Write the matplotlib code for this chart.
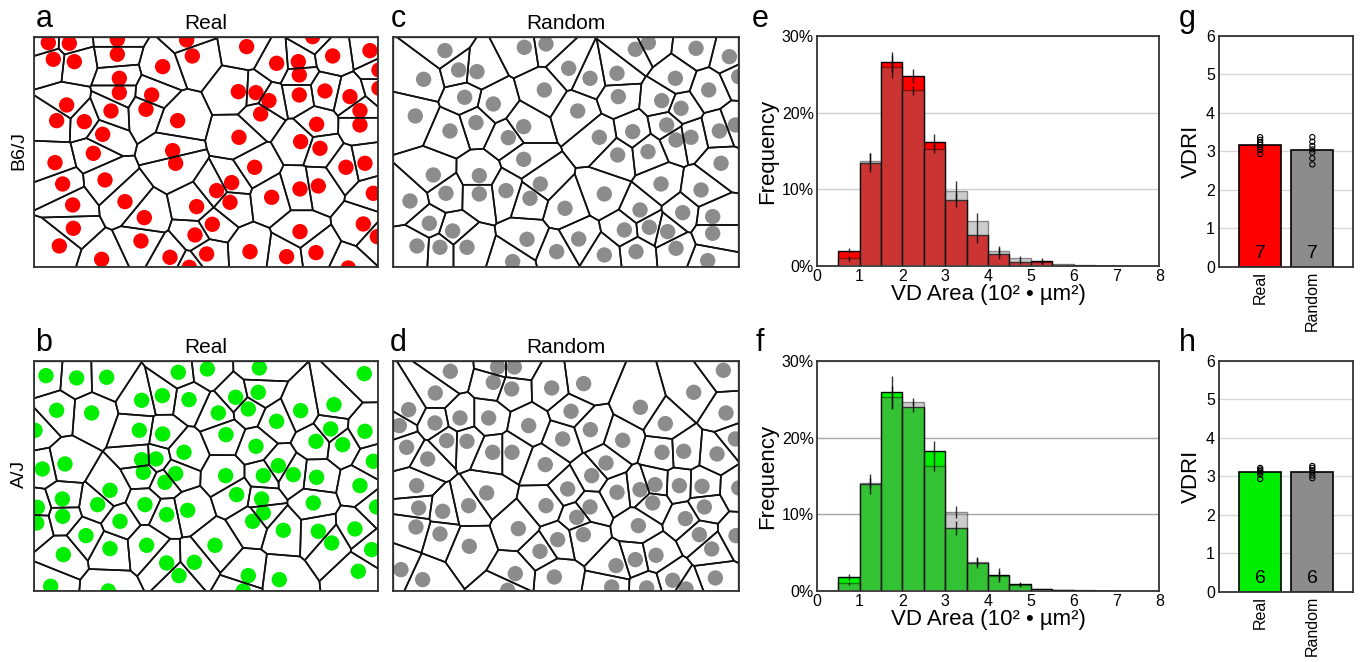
import numpy as np
import matplotlib
matplotlib.use("Agg")
import matplotlib.pyplot as plt
from matplotlib.collections import PolyCollection
from matplotlib.patches import Circle

plt.rcParams["font.family"] = ["Liberation Sans", "DejaVu Sans"]

# ---- cell positions (image units of each field) ----
pts_b6_real = [
    (55, 38), (118, 40), (262, 28), (470, 30), (650, 50), (848, 20), (1020, 62), (1047, 120),
    (70, 88), (133, 95), (262, 73), (487, 78), (398, 110), (740, 100), (805, 95), (908, 78),
    (808, 135), (808, 195), (268, 145), (268, 188), (365, 195), (348, 238), (625, 185),
    (678, 188), (717, 212), (692, 252), (885, 183), (960, 200), (990, 242), (990, 285),
    (1047, 175), (110, 225), (80, 272), (163, 275), (243, 243), (218, 313), (443, 272),
    (627, 322), (860, 283), (812, 335), (870, 355), (75, 398), (190, 370), (428, 362),
    (437, 400), (948, 412), (1005, 400), (674, 412), (98, 462), (225, 450), (605, 458),
    (560, 482), (600, 517), (725, 502), (810, 477), (865, 468), (1030, 490), (128, 525),
    (285, 515), (500, 530), (343, 563), (547, 583), (1000, 582), (1042, 620), (130, 595),
    (495, 615), (810, 605), (88, 648), (333, 633), (215, 688), (420, 682), (530, 672),
    (660, 665), (770, 680), (858, 668), (478, 712), (955, 714),
]
pts_b6_rand = [
    (177, 62), (415, 52), (480, 42), (548, 115), (612, 145), (693, 130), (748, 58), (787, 38),
    (930, 55), (1030, 80), (1058, 140), (218, 120), (273, 125), (113, 148), (868, 145),
    (968, 180), (475, 180), (697, 200), (236, 202), (322, 222), (827, 212), (885, 235),
    (88, 258), (575, 243), (270, 278), (413, 290), (192, 303), (367, 323), (640, 322),
    (740, 305), (842, 285), (870, 330), (915, 322), (1000, 303), (1048, 285), (413, 388),
    (695, 375), (786, 365), (1005, 400), (142, 435), (280, 437), (463, 462), (825, 462),
    (945, 480), (180, 490), (280, 492), (360, 482), (432, 505), (655, 492), (72, 513),
    (537, 535), (762, 540), (890, 548), (980, 560), (130, 580), (200, 603), (715, 600),
    (790, 592), (845, 605), (980, 610), (93, 648), (162, 652), (243, 652), (423, 628),
    (578, 627), (512, 665), (655, 675), (750, 665), (870, 655), (380, 695), (965, 692),
]
pts_aj_real = [
    (48, 68), (140, 75), (230, 73), (445, 58), (532, 48), (688, 45), (1003, 62),
    (80, 172), (185, 180), (335, 142), (397, 128), (477, 140), (617, 133), (685, 118),
    (655, 168), (565, 180), (812, 173), (912, 155), (740, 205), (902, 228), (1005, 235),
    (15, 232), (328, 232), (398, 243), (588, 245), (678, 280), (858, 265), (938, 275),
    (462, 298), (1030, 325), (105, 333), (37, 348), (335, 320), (378, 318), (340, 358),
    (437, 362), (405, 388), (587, 368), (700, 368), (745, 338), (790, 365), (860, 373),
    (240, 412), (97, 438), (203, 455), (620, 425), (695, 438), (990, 398), (345, 455),
    (473, 472), (410, 485), (98, 490), (22, 463), (20, 510), (700, 480), (668, 505),
    (270, 505), (850, 450), (1040, 462), (168, 548), (760, 532), (865, 535), (975, 528),
    (350, 577), (555, 577), (905, 570), (240, 587), (100, 605), (1025, 590), (410, 630),
    (493, 628), (447, 668), (655, 668), (748, 680), (985, 655), (62, 700), (235, 714),
    (640, 714),
]
pts_aj_rand = [
    (193, 55), (335, 42), (385, 42), (1012, 52), (148, 120), (322, 88), (377, 108),
    (497, 105), (593, 92), (923, 118), (68, 170), (222, 195), (308, 195), (428, 218),
    (555, 175), (763, 163), (1020, 180), (40, 218), (147, 210), (613, 230), (838, 212),
    (182, 263), (243, 265), (530, 258), (710, 262), (1048, 258), (62, 283), (125, 318),
    (320, 298), (378, 298), (478, 335), (660, 330), (828, 298), (893, 295), (993, 303),
    (617, 368), (92, 398), (302, 420), (545, 408), (693, 418), (762, 410), (807, 395),
    (880, 398), (948, 400), (1058, 405), (98, 465), (170, 475), (248, 458), (480, 458),
    (612, 462), (800, 450), (955, 462), (572, 493), (898, 497), (90, 522), (162, 543),
    (397, 527), (757, 518), (592, 545), (515, 560), (940, 545), (1050, 548), (250, 580),
    (977, 588), (462, 595), (690, 638), (748, 620), (810, 607), (45, 650), (110, 680),
    (388, 662), (505, 672), (860, 682), (988, 675), (365, 712), (677, 702), (782, 705),
    (900, 708),
]

# ---- VD area histograms (% per 0.5 bin, 10^2 um^2) ----
bin_left = [0.5, 1.0, 1.5, 2.0, 2.5, 3.0, 3.5, 4.0, 4.5, 5.0, 5.5, 6.0, 6.5]
b6_real = [2.0, 13.5, 26.6, 24.8, 16.2, 8.6, 4.0, 1.6, 0.5, 0.7, 0.1, 0.05, 0.05]
b6_real_err = [0.3, 1.2, 1.3, 0.9, 1.0, 0.9, 1.0, 0.7, 0.3, 0.4, 0, 0, 0]
b6_rand = [1.0, 13.7, 26.0, 22.9, 15.3, 9.8, 5.9, 2.0, 1.0, 0.5, 0.2, 0.1, 0.05]
b6_rand_err = [0.3, 1.0, 1.5, 0.6, 0.6, 1.3, 1.0, 0.6, 0.3, 0.3, 0, 0, 0]
aj_real = [1.8, 14.0, 25.9, 24.0, 18.3, 8.2, 3.7, 2.1, 0.85, 0.3, 0.15, 0.05, 0.02]
aj_real_err = [0.4, 1.3, 2.1, 0.6, 1.3, 0.9, 0.7, 0.9, 0.3, 0, 0, 0, 0]
aj_rand = [1.0, 14.1, 25.3, 24.7, 16.3, 10.3, 3.8, 2.0, 0.8, 0.3, 0.15, 0.1, 0.03]
aj_rand_err = [0.2, 0.6, 1.4, 0.5, 0.6, 0.8, 0.5, 0.6, 0.2, 0, 0, 0, 0]

# ---- VDRI per retina ----
vdri_groups = ["Real", "Random"]
b6_vdri_real = [3.37, 3.30, 3.23, 3.17, 3.11, 3.04, 2.93]
b6_vdri_rand = [3.37, 3.25, 3.14, 3.05, 2.97, 2.82, 2.66]
aj_vdri_real = [3.22, 3.18, 3.14, 3.10, 3.05, 2.93]
aj_vdri_rand = [3.27, 3.22, 3.16, 3.10, 3.02, 2.95]

W, H = 1360, 662
fig = plt.figure(figsize=(W / 100, H / 100), dpi=100)


def px_axes(l, t, r, b):
    return fig.add_axes([l / W, 1 - b / H, (r - l) / W, (b - t) / H])


def clip_halfplane(poly, n, m):
    out = []
    k = len(poly)
    for i in range(k):
        a, b = poly[i], poly[(i + 1) % k]
        da, db = np.dot(a - m, n), np.dot(b - m, n)
        if da <= 0:
            out.append(a)
        if da * db < 0:
            out.append(a + da / (da - db) * (b - a))
    return out


def voronoi_cells(pts, box):
    x0, x1, y0, y1 = box
    cells = []
    for i, p in enumerate(pts):
        poly = [np.array(v, float) for v in [(x0, y0), (x1, y0), (x1, y1), (x0, y1)]]
        for j, q in enumerate(pts):
            if i == j:
                continue
            poly = clip_halfplane(poly, q - p, (p + q) / 2)
            if not poly:
                break
        if poly:
            cells.append(np.array(poly))
    return cells


def style_spines(ax):
    for s in ax.spines.values():
        s.set_linewidth(1.3)
        s.set_color("#333333")


def mosaic(ax, pts, box, color, title):
    pts = np.array(pts, float)
    for x, y in pts:
        ax.add_patch(Circle((x, y), 23, color=color, lw=0, zorder=1))
    cells = voronoi_cells(pts, box)
    ax.add_collection(PolyCollection(cells, facecolors="none", edgecolors="#111111",
                                     linewidths=1.2, zorder=2))
    ax.set_xlim(box[0], box[1])
    ax.set_ylim(box[3], box[2])
    ax.set_xticks([])
    ax.set_yticks([])
    style_spines(ax)
    ax.set_title(title, fontsize=15, pad=6)


def histo(ax, real, real_err, rand, rand_err, color, grid_color):
    centers = np.array(bin_left) + 0.25
    ax.bar(bin_left, real, width=0.5, align="edge", color=color,
           edgecolor="black", linewidth=1.0, zorder=2)
    ax.bar(bin_left, rand, width=0.5, align="edge", color="#808080", alpha=0.4,
           edgecolor="black", linewidth=1.0, zorder=3)
    ax.errorbar(centers, real, yerr=real_err, fmt="none", ecolor="black",
                elinewidth=1.0, alpha=0.8, zorder=4)
    ax.errorbar(centers, rand, yerr=rand_err, fmt="none", ecolor="black",
                elinewidth=1.0, alpha=0.8, zorder=4)
    ax.set_xlim(0, 8)
    ax.set_ylim(0, 30)
    ax.set_xticks(range(9))
    ax.set_yticks([0, 10, 20, 30])
    ax.set_yticklabels(["0%", "10%", "20%", "30%"])
    ax.yaxis.grid(True, color=grid_color, linewidth=1.0, zorder=0)
    ax.set_axisbelow(True)
    ax.tick_params(length=0, labelsize=11.5, pad=2)
    ax.set_ylabel("Frequency", fontsize=16, labelpad=3)
    ax.set_xlabel("VD Area (10² • µm²)", fontsize=16, labelpad=0)
    style_spines(ax)


def vdri(ax, real, rand, color):
    xs = [0, 1]
    means = [np.mean(real), np.mean(rand)]
    ax.bar(xs, means, width=0.81, color=[color, "#8c8c8c"], edgecolor="black",
           linewidth=1.2, zorder=2)
    for x, vals in zip(xs, [real, rand]):
        ax.scatter([x] * len(vals), vals, s=14, facecolors="none", edgecolors="black",
                   linewidths=0.8, zorder=3)
        ax.text(x, 0.12, str(len(vals)), ha="center", va="bottom", fontsize=14, zorder=4)
    ax.set_xlim(-0.79, 1.78)
    ax.set_ylim(0, 6)
    ax.set_yticks(range(7))
    ax.set_xticks(xs)
    ax.set_xticklabels(vdri_groups, rotation=90)
    ax.yaxis.grid(True, color="#d8d8d8", linewidth=1.0, zorder=0)
    ax.set_axisbelow(True)
    ax.tick_params(length=0, labelsize=11.5, pad=3)
    ax.set_ylabel("VDRI", fontsize=16, labelpad=3)
    style_spines(ax)


box_top_l = (12, 1045, 22, 712)
box_top_r = (22, 1058, 22, 712)
box_bot_l = (12, 1045, 25, 715)
box_bot_r = (22, 1058, 25, 715)

mosaic(px_axes(34, 37.3, 378.3, 267.3), pts_b6_real, box_top_l, "#ff0000", "Real")
mosaic(px_axes(393.3, 37.3, 738.7, 267.3), pts_b6_rand, box_top_r, "#8c8c8c", "Random")
mosaic(px_axes(34, 361.3, 378.3, 591.3), pts_aj_real, box_bot_l, "#00ee00", "Real")
mosaic(px_axes(393.3, 361.3, 738.7, 591.3), pts_aj_rand, box_bot_r, "#8c8c8c", "Random")

histo(px_axes(816.7, 36, 1159.3, 266), b6_real, b6_real_err, b6_rand, b6_rand_err,
      "#ff0000", "#d0d0d0")
histo(px_axes(816.7, 361, 1159.3, 591), aj_real, aj_real_err, aj_rand, aj_rand_err,
      "#00ee00", "#a8a8a8")

vdri(px_axes(1219, 36, 1353, 266.7), b6_vdri_real, b6_vdri_rand, "#ff0000")
vdri(px_axes(1219, 361, 1353, 591.7), aj_vdri_real, aj_vdri_rand, "#00ee00")

# panel letters and row labels
for letter, x, y in [("a", 44, 27), ("b", 44, 351), ("c", 398, 27), ("d", 398, 351),
                     ("e", 760, 27), ("f", 760, 351), ("g", 1187, 27), ("h", 1187, 351)]:
    fig.text(x / W, 1 - y / H, letter, fontsize=22, ha="center", va="baseline")
fig.text(19 / W, 1 - 150 / H, "B6/J", fontsize=14, rotation=90, ha="center", va="center")
fig.text(19 / W, 1 - 474 / H, "A/J", fontsize=14, rotation=90, ha="center", va="center")

fig.savefig("out.png", dpi=100)
plt.close(fig)
